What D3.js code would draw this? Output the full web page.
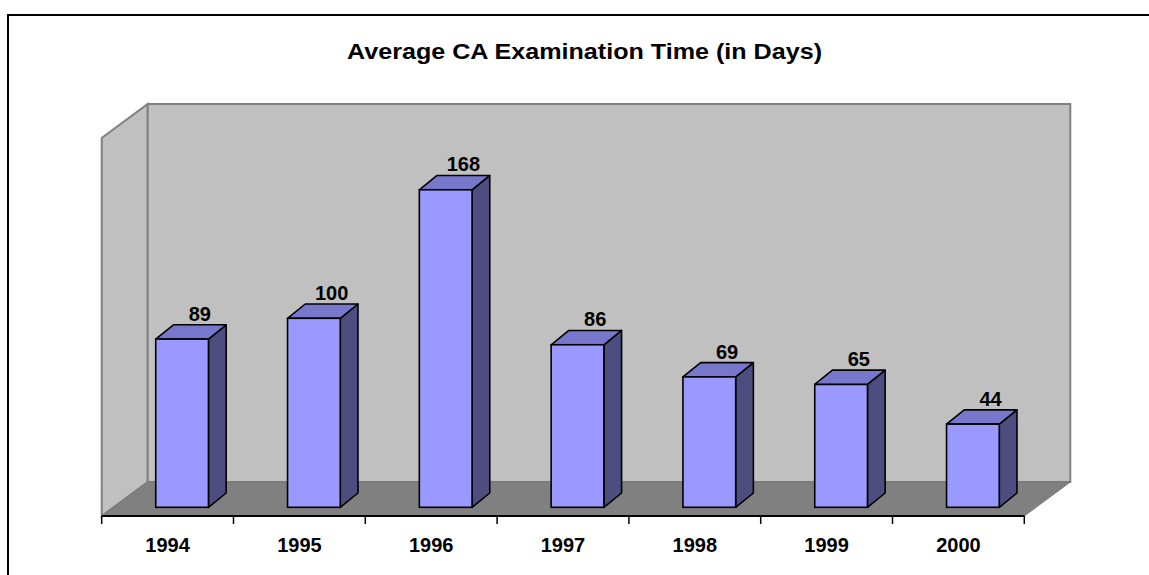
<!DOCTYPE html>
<html>
<head>
<meta charset="utf-8">
<script src="https://cdn.jsdelivr.net/npm/d3@7"></script>
<style>
  html, body { margin: 0; padding: 0; background: #fff; }
  svg { display: block; font-family: Arial, "Liberation Sans", sans-serif; }
</style>
</head>
<body>
<svg id="chart" width="1149" height="575"></svg>
<script>
// chart data
const years = ["1994", "1995", "1996", "1997", "1998", "1999", "2000"];
const days = [89, 100, 168, 86, 69, 65, 44];
const title = "Average CA Examination Time (in Days)";

// 3d box of the plot area
const floorFront = { x0: 101.7, x1: 1024.3, y: 516 };
const depth = { dx: 46, dy: -34 };           // wall / floor depth
const barShift = { dx: 14.5, dy: -8.7 };     // front face of bars inside the floor
const barDepth = { dx: 17.7, dy: -14.3 };    // depth of each bar

const svg = d3.select("#chart");

// outer frame (runs off right and bottom edge)
svg.append("rect")
    .attr("x", 8).attr("y", 15)
    .attr("width", 1160).attr("height", 600)
    .style("fill", "none")
    .style("stroke", "#000")
    .style("stroke-width", 2);

svg.append("text")
    .attr("x", 584.5).attr("y", 58.5)
    .attr("text-anchor", "middle")
    .attr("textLength", 475)
    .attr("lengthAdjust", "spacingAndGlyphs")
    .style("font-weight", "bold")
    .style("font-size", "22px")
    .text(title);

const x = d3.scaleBand()
    .domain(years)
    .range([floorFront.x0, floorFront.x1]);

const xBar = d3.scaleBand()
    .domain(years)
    .range([floorFront.x0 + barShift.dx, floorFront.x1 + barShift.dx])
    .paddingInner(0.6)
    .paddingOuter(0.3);

const barBase = floorFront.y + barShift.dy;
const y = d3.scaleLinear()
    .domain([0, 200])
    .range([barBase, barBase - 378]);

const backTop = floorFront.y + depth.dy - 378;
const backBottom = floorFront.y + depth.dy;
const line = d3.line();

// side wall
svg.append("path")
    .attr("d", line([
        [floorFront.x0, floorFront.y],
        [floorFront.x0, floorFront.y - 378],
        [floorFront.x0 + depth.dx, backTop],
        [floorFront.x0 + depth.dx, backBottom]
    ]) + "Z")
    .style("fill", "#c0c0c0")
    .style("stroke", "#808080")
    .style("stroke-width", 2);

// back wall
svg.append("rect")
    .attr("x", floorFront.x0 + depth.dx)
    .attr("y", backTop)
    .attr("width", floorFront.x1 - floorFront.x0)
    .attr("height", 378)
    .style("fill", "#c0c0c0")
    .style("stroke", "#808080")
    .style("stroke-width", 2);

// floor
svg.append("path")
    .attr("d", line([
        [floorFront.x0, floorFront.y],
        [floorFront.x0 + depth.dx, backBottom],
        [floorFront.x1 + depth.dx, backBottom],
        [floorFront.x1, floorFront.y]
    ]) + "Z")
    .style("fill", "#808080")
    .style("stroke", "#777")
    .style("stroke-width", 1);

// category axis on the front edge of the floor
const axis = svg.append("g");
axis.append("line")
    .attr("x1", floorFront.x0).attr("x2", floorFront.x1)
    .attr("y1", floorFront.y).attr("y2", floorFront.y)
    .style("stroke", "#000").style("stroke-width", 2);

axis.selectAll("line.tick")
    .data(years.concat(["end"]))
    .join("line")
    .attr("class", "tick")
    .attr("x1", (d, i) => floorFront.x0 + i * x.step())
    .attr("x2", (d, i) => floorFront.x0 + i * x.step())
    .attr("y1", floorFront.y)
    .attr("y2", floorFront.y + 8)
    .style("stroke", "#000").style("stroke-width", 1.5);

axis.selectAll("text")
    .data(years)
    .join("text")
    .attr("x", d => x(d) + x.bandwidth() / 2)
    .attr("y", 552)
    .attr("text-anchor", "middle")
    .style("font-weight", "bold")
    .style("font-size", "20px")
    .text(d => d);

// bars
const data = years.map((yr, i) => ({ year: yr, value: days[i] }));
const bars = svg.selectAll("g.bar")
    .data(data)
    .join("g")
    .attr("class", "bar");

const bw = xBar.bandwidth();
const edge = { stroke: "#000", width: 1.6 };

bars.append("path") // side
    .attr("d", d => {
        const l = xBar(d.year) + bw, t = y(d.value);
        return line([[l, barBase], [l, t], [l + barDepth.dx, t + barDepth.dy], [l + barDepth.dx, barBase + barDepth.dy]]) + "Z";
    })
    .style("fill", "#4d4d80")
    .style("stroke", edge.stroke).style("stroke-width", edge.width)
    .style("stroke-linejoin", "round");

bars.append("path") // top
    .attr("d", d => {
        const l = xBar(d.year), t = y(d.value);
        return line([[l, t], [l + barDepth.dx, t + barDepth.dy], [l + bw + barDepth.dx, t + barDepth.dy], [l + bw, t]]) + "Z";
    })
    .style("fill", "#7777cc")
    .style("stroke", edge.stroke).style("stroke-width", edge.width)
    .style("stroke-linejoin", "round");

bars.append("rect") // front
    .attr("x", d => xBar(d.year))
    .attr("y", d => y(d.value))
    .attr("width", bw)
    .attr("height", d => barBase - y(d.value))
    .style("fill", "#9999ff")
    .style("stroke", edge.stroke).style("stroke-width", edge.width);

bars.append("text")
    .attr("x", d => xBar(d.year) + bw / 2 + barDepth.dx)
    .attr("y", d => y(d.value) + barDepth.dy - 4)
    .attr("text-anchor", "middle")
    .style("font-weight", "bold")
    .style("font-size", "20px")
    .text(d => d.value);
</script>
</body>
</html>
